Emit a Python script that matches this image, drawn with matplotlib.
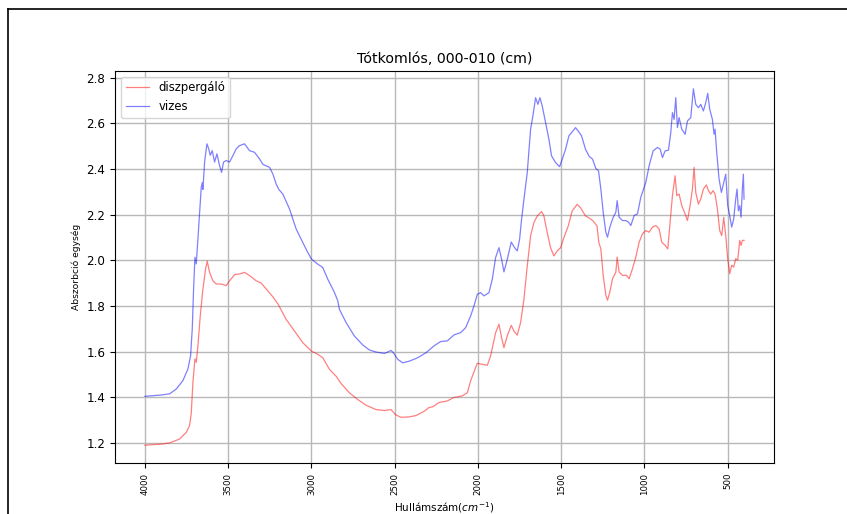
import matplotlib
matplotlib.use('Agg')
import matplotlib.pyplot as plt
from matplotlib.lines import Line2D
import numpy as np

# diszpergalo (red) spectrum
red_x = [4000, 3900, 3852, 3792, 3752, 3732, 3722, 3712, 3700, 3692, 3682, 3668, 3652, 3636, 3626,
         3612, 3592, 3572, 3542, 3512, 3492, 3462, 3432, 3402, 3372, 3332, 3302, 3272, 3232, 3200,
         3152, 3102, 3052, 3000, 2962, 2932, 2892, 2852, 2822, 2772, 2722, 2672, 2612, 2562, 2522,
         2496, 2462, 2412, 2372, 2322, 2294, 2272, 2234, 2184, 2144, 2094, 2064, 2044, 2018, 2004,
         1974, 1944, 1924, 1894, 1874, 1858, 1844, 1824, 1800, 1784, 1764, 1744, 1724, 1704, 1684,
         1664, 1644, 1618, 1604, 1584, 1564, 1544, 1524, 1504, 1484, 1458, 1434, 1404, 1384, 1354,
         1330, 1308, 1285, 1274, 1262, 1248, 1232, 1222, 1208, 1192, 1172, 1164, 1152, 1132, 1108,
         1092, 1072, 1052, 1032, 1012, 992, 972, 952, 932, 912, 896, 876, 860, 848, 832,
         816, 806, 792, 776, 756, 742, 726, 712, 702, 692, 676, 662, 646, 628, 616,
         602, 588, 576, 562, 548, 536, 524, 512, 500, 488, 476, 464, 452, 440, 428,
         420, 412, 402]
red_y = [1.190, 1.195, 1.200, 1.217, 1.246, 1.276, 1.330, 1.466, 1.568, 1.553, 1.626, 1.756, 1.874, 1.962, 1.996,
         1.947, 1.910, 1.896, 1.896, 1.889, 1.910, 1.937, 1.940, 1.947, 1.933, 1.910, 1.900, 1.874, 1.840, 1.807,
         1.741, 1.690, 1.639, 1.602, 1.588, 1.573, 1.522, 1.492, 1.460, 1.419, 1.390, 1.365, 1.346, 1.342, 1.346,
         1.324, 1.312, 1.314, 1.320, 1.339, 1.355, 1.358, 1.377, 1.384, 1.399, 1.406, 1.420, 1.472, 1.523, 1.549,
         1.544, 1.540, 1.581, 1.683, 1.720, 1.661, 1.617, 1.669, 1.715, 1.690, 1.672, 1.727, 1.829, 1.975, 2.107,
         2.165, 2.194, 2.213, 2.194, 2.121, 2.055, 2.019, 2.041, 2.055, 2.099, 2.150, 2.216, 2.245, 2.230, 2.194,
         2.184, 2.172, 2.150, 2.077, 2.050, 1.934, 1.847, 1.825, 1.861, 1.919, 1.948, 2.014, 1.948, 1.934, 1.934,
         1.919, 1.963, 2.014, 2.079, 2.116, 2.130, 2.123, 2.145, 2.152, 2.137, 2.079, 2.065, 2.050, 2.152, 2.283,
         2.370, 2.283, 2.290, 2.239, 2.203, 2.174, 2.239, 2.312, 2.407, 2.297, 2.246, 2.268, 2.312, 2.330, 2.305,
         2.290, 2.305, 2.290, 2.225, 2.130, 2.108, 2.188, 2.108, 2.007, 1.941, 1.978, 1.970, 2.007, 2.000, 2.087,
         2.065, 2.087, 2.087]

# vizes (blue) spectrum
blue_x = [4000, 3900, 3852, 3812, 3772, 3742, 3726, 3716, 3708, 3700, 3692, 3682, 3672, 3662, 3656,
          3652, 3642, 3628, 3618, 3608, 3596, 3582, 3568, 3552, 3540, 3528, 3512, 3492, 3472, 3452,
          3432, 3402, 3372, 3342, 3312, 3292, 3252, 3232, 3212, 3196, 3172, 3132, 3092, 3052, 3028,
          3000, 2962, 2932, 2902, 2862, 2842, 2832, 2792, 2742, 2692, 2652, 2612, 2562, 2542, 2522,
          2508, 2482, 2452, 2412, 2362, 2312, 2264, 2224, 2184, 2144, 2104, 2074, 2044, 2024, 2004,
          1984, 1964, 1934, 1914, 1894, 1874, 1858, 1844, 1824, 1800, 1780, 1764, 1750, 1738, 1724,
          1704, 1684, 1670, 1654, 1640, 1628, 1614, 1594, 1574, 1558, 1534, 1510, 1494, 1474, 1454,
          1430, 1414, 1398, 1378, 1354, 1332, 1312, 1292, 1276, 1262, 1248, 1232, 1222, 1208, 1188,
          1172, 1164, 1152, 1132, 1112, 1096, 1082, 1062, 1042, 1022, 992, 972, 948, 922, 906,
          892, 876, 856, 842, 832, 822, 812, 802, 792, 776, 756, 742, 722, 706, 692,
          676, 662, 646, 632, 620, 608, 592, 582, 576, 566, 552, 538, 526, 512, 500,
          488, 476, 464, 452, 444, 436, 428, 420, 412, 406, 402]
blue_y = [1.404, 1.410, 1.415, 1.436, 1.473, 1.524, 1.582, 1.700, 1.874, 2.013, 1.984, 2.093, 2.210, 2.320, 2.340,
          2.310, 2.430, 2.510, 2.490, 2.460, 2.480, 2.430, 2.466, 2.415, 2.385, 2.430, 2.437, 2.430, 2.458, 2.488,
          2.502, 2.510, 2.480, 2.473, 2.444, 2.420, 2.407, 2.378, 2.334, 2.310, 2.290, 2.225, 2.137, 2.078, 2.042,
          2.005, 1.983, 1.968, 1.917, 1.859, 1.822, 1.785, 1.727, 1.668, 1.629, 1.607, 1.598, 1.592, 1.598, 1.605,
          1.595, 1.566, 1.551, 1.558, 1.573, 1.595, 1.625, 1.644, 1.647, 1.673, 1.683, 1.705, 1.756, 1.800, 1.851,
          1.858, 1.844, 1.858, 1.917, 2.012, 2.055, 2.004, 1.949, 2.004, 2.080, 2.055, 2.041, 2.092, 2.180, 2.267,
          2.384, 2.574, 2.632, 2.712, 2.683, 2.712, 2.676, 2.603, 2.530, 2.457, 2.428, 2.410, 2.442, 2.486, 2.545,
          2.566, 2.581, 2.566, 2.545, 2.486, 2.455, 2.443, 2.402, 2.392, 2.312, 2.210, 2.123, 2.101, 2.145, 2.188,
          2.210, 2.261, 2.188, 2.174, 2.174, 2.167, 2.152, 2.196, 2.203, 2.276, 2.341, 2.414, 2.479, 2.494, 2.487,
          2.450, 2.479, 2.482, 2.559, 2.647, 2.617, 2.712, 2.581, 2.625, 2.574, 2.552, 2.610, 2.625, 2.751, 2.683,
          2.668, 2.683, 2.654, 2.690, 2.731, 2.661, 2.617, 2.552, 2.574, 2.472, 2.356, 2.297, 2.334, 2.377, 2.239,
          2.196, 2.145, 2.181, 2.268, 2.312, 2.217, 2.239, 2.188, 2.312, 2.377, 2.268]

fig = plt.figure(figsize=(8.47, 5.14), dpi=100)
ax = fig.add_axes([0.1358, 0.0992, 0.7780, 0.7627])

ax.plot(red_x, red_y, color='red', alpha=0.5, lw=0.9, label='diszpergáló')
ax.plot(blue_x, blue_y, color='blue', alpha=0.5, lw=0.9, label='vizes')
ax.invert_xaxis()
ax.grid(True, color='#b8b8b8', lw=1)

ax.set_title('Tótkomlós, 000-010 (cm)', fontsize=10.2)
ax.set_xlabel('Hullámszám($cm^{-1}$)', fontsize=7.5)
ax.set_ylabel('Abszorbció egység', fontsize=6.6)
ax.tick_params(axis='y', labelsize=8.6)
ax.tick_params(axis='x', labelsize=6.2, labelrotation=90)
ax.legend(loc='upper left', fontsize=8.4)

# screenshot frame lines (top and left)
fig.add_artist(Line2D([8/847, 1], [1 - 9/514, 1 - 9/514], transform=fig.transFigure, color='black', lw=1.2))
fig.add_artist(Line2D([8/847, 8/847], [0, 1 - 9/514], transform=fig.transFigure, color='black', lw=1.2))

fig.savefig('out.png', dpi=100)
